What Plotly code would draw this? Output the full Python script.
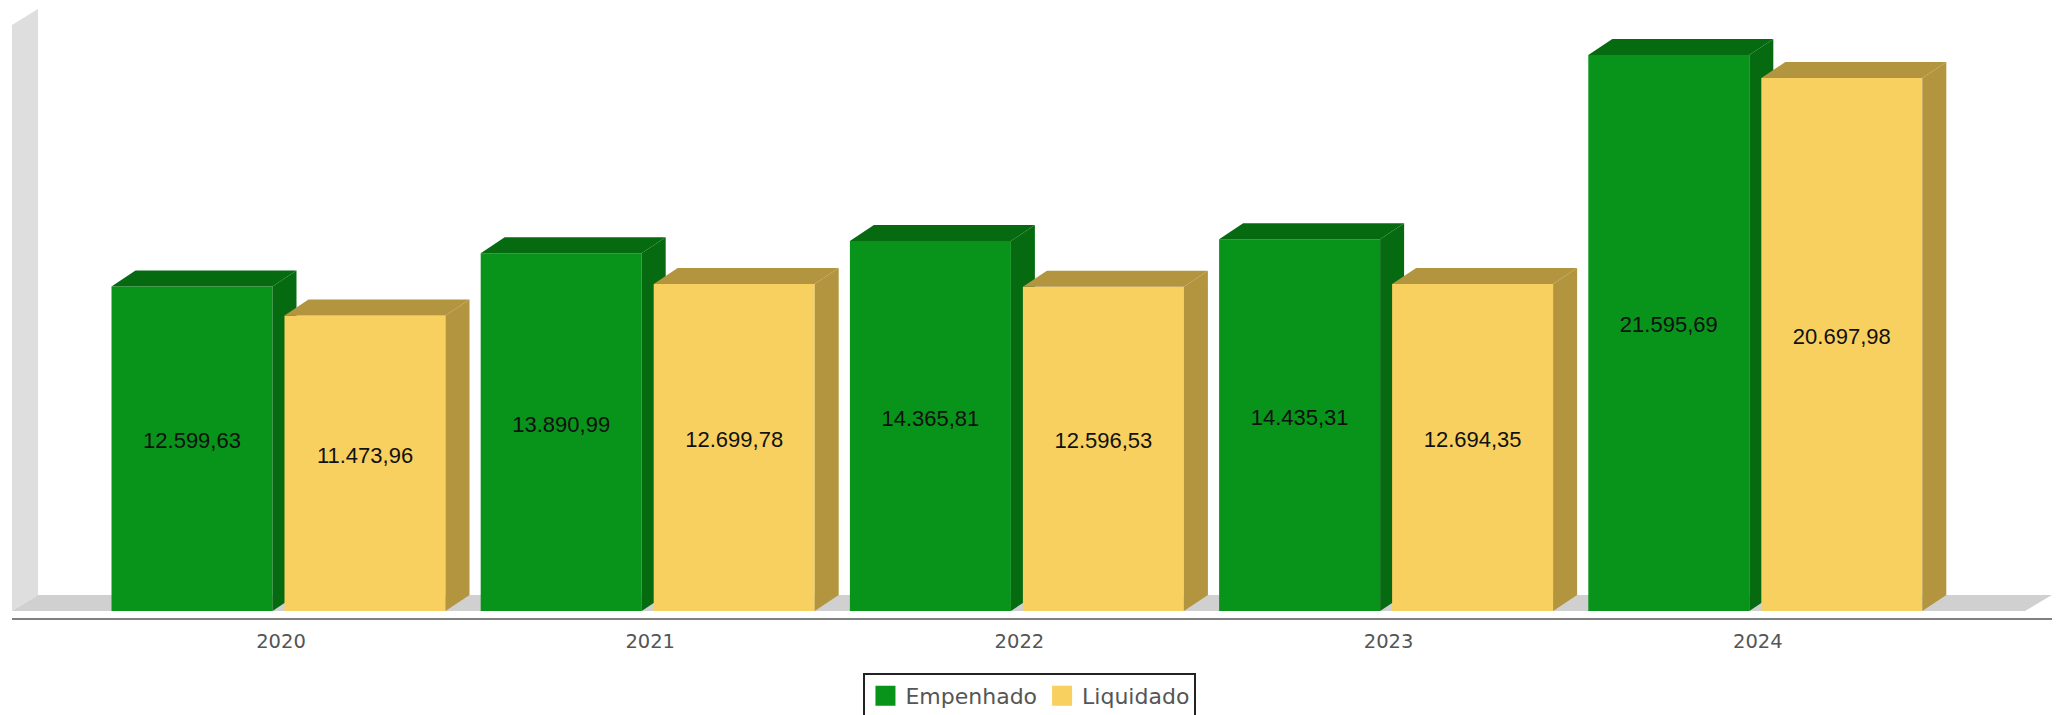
import plotly.graph_objects as go

years = ["2020", "2021", "2022", "2023", "2024"]
empenhado = [12599.63, 13890.99, 14365.81, 14435.31, 21595.69]
liquidado = [11473.96, 12699.78, 12596.53, 12694.35, 20697.98]
empenhado_labels = ["12.599,63", "13.890,99", "14.365,81", "14.435,31", "21.595,69"]
liquidado_labels = ["11.473,96", "12.699,78", "12.596,53", "12.694,35", "20.697,98"]

W, H = 2060, 715
# page has an 8 px body margin, all pixel values below are relative to the plot origin
L, R, T, B = 4, 2044, 0, 610
ZERO_PX = 603
PX_PER_VAL = 0.02575
GROUP_PX = 369.2
FIRST_CENTER_PX = 273
BAR_W_PX = 161.0
OFF_E, OFF_L = -89.0, 84.0
DX, DY = 24, 16


def px2x(p):
    return (p - FIRST_CENTER_PX) / GROUP_PX


def dx(p):
    return p / GROUP_PX


def dy(p):
    return p / PX_PER_VAL


xmin, xmax = px2x(L), px2x(R)
ymin = -dy(B - ZERO_PX)
ymax = dy(ZERO_PX - T)

fig = go.Figure()


def poly(xs, ys, color, xa="x", ya="y"):
    fig.add_trace(go.Scatter(x=xs + [xs[0]], y=ys + [ys[0]], mode="lines", fill="toself",
                             fillcolor=color, line=dict(width=0), hoverinfo="skip",
                             showlegend=False, xaxis=xa, yaxis=ya))


# back wall and floor (base subplot)
wall_top = dy(ZERO_PX - 1)
poly([xmin, xmin + dx(DX + 2), xmin + dx(DX + 2), xmin],
     [0, dy(DY), wall_top, wall_top - dy(DY)], "#dedede")
poly([xmin, xmin + dx(DX + 2), xmax, xmax - dx(27)],
     [0, dy(DY), dy(DY), 0], "#d0d0d0")

series = [
    (empenhado, empenhado_labels, OFF_E, "#08931a", "#066a10", "Empenhado", "x2", "y2"),
    (liquidado, liquidado_labels, OFF_L, "#f8d05f", "#b3953f", "Liquidado", "x3", "y3"),
]

for values, labels, offs, front, shade, name, xa, ya in series:
    centers = [i + dx(offs) for i in range(len(values))]
    fig.add_trace(go.Bar(x=centers, y=values, width=dx(BAR_W_PX),
                         marker=dict(color=front, line=dict(width=0)),
                         showlegend=False, name=name, xaxis=xa, yaxis=ya))
    for c, v in zip(centers, values):
        x0 = c - dx(BAR_W_PX / 2)
        x1 = c + dx(BAR_W_PX / 2)
        poly([x1, x1 + dx(DX), x1 + dx(DX), x1], [0, dy(DY), v + dy(DY), v], shade, xa, ya)
        poly([x0, x0 + dx(DX), x1 + dx(DX), x1], [v, v + dy(DY), v + dy(DY), v], shade, xa, ya)
    fig.add_trace(go.Scatter(
        x=centers, y=[v / 2 + dy(6) for v in values],
        text=labels, mode="text", textposition="middle center",
        textfont=dict(family="Liberation Sans", size=22, color="#111111"),
        hoverinfo="skip", showlegend=False, xaxis=xa, yaxis=ya))

for values, labels, offs, front, shade, name, xa, ya in series:
    fig.add_trace(go.Scatter(x=[None], y=[None], mode="markers", name=name,
                             marker=dict(symbol="square", size=16, color=front,
                                         line=dict(width=4, color=front)),
                             xaxis=xa, yaxis=ya))

hidden_x = dict(range=[xmin, xmax], visible=False, overlaying="x", anchor="y")
hidden_y = dict(range=[ymin, ymax], visible=False, overlaying="y", anchor="x")

fig.update_layout(
    width=W, height=H, autosize=False,
    margin=dict(l=L, r=W - R, t=T, b=H - B),
    paper_bgcolor="white", plot_bgcolor="white",
    barmode="overlay",
    showlegend=True,
    legend=dict(orientation="h", x=0.499, xanchor="center", xref="paper",
                y=-0.0902, yanchor="top",
                bgcolor="white", bordercolor="#222222", borderwidth=2,
                font=dict(family="DejaVu Sans", size=22, color="#555555"),
                itemwidth=30, traceorder="normal"),
    xaxis=dict(range=[xmin, xmax], tickmode="array", tickvals=list(range(5)), ticktext=years,
               showgrid=False, zeroline=False, showline=True, linecolor="#808080", linewidth=2,
               ticks="", ticklabelstandoff=5,
               tickfont=dict(family="DejaVu Sans", size=19.5, color="#555555")),
    yaxis=dict(range=[ymin, ymax], visible=False, showgrid=False, zeroline=False),
    xaxis2=hidden_x, xaxis3=hidden_x,
    yaxis2=dict(hidden_y, anchor="x2"), yaxis3=dict(hidden_y, anchor="x3"),
)
fig.write_html("out.html")
